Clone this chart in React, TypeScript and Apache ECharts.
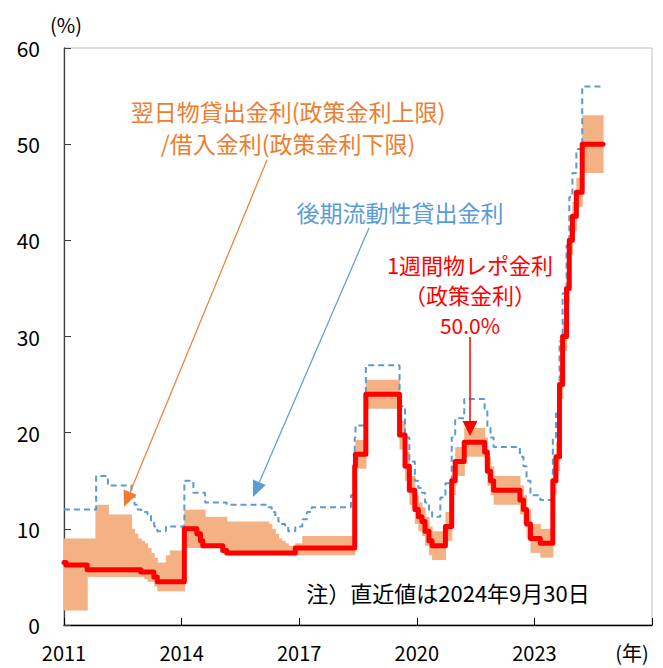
import React, { useEffect, useRef } from 'react';
import * as echarts from 'echarts';

// 1週間物レポ金利 (policy rate) — step changes [year, %]
const repoDates = [2011.0, 2011.05, 2011.59, 2012.96, 2013.29, 2013.38, 2014.07, 2014.39, 2014.48, 2014.54, 2015.05, 2015.15, 2016.9, 2018.416, 2018.435, 2018.7, 2019.56, 2019.7, 2019.81, 2019.95, 2020.04, 2020.13, 2020.21, 2020.31, 2020.39, 2020.73, 2020.89, 2020.98, 2021.21, 2021.73, 2021.8, 2021.88, 2021.96, 2022.63, 2022.72, 2022.8, 2022.9, 2023.15, 2023.47, 2023.55, 2023.64, 2023.72, 2023.82, 2023.89, 2023.97, 2024.07, 2024.22, 2024.75];
const repoRates = [6.5, 6.25, 5.75, 5.5, 5.0, 4.5, 10.0, 9.5, 8.75, 8.25, 7.75, 7.5, 8.0, 16.5, 17.75, 24.0, 19.75, 16.5, 14.0, 12.0, 11.25, 10.75, 9.75, 8.75, 8.25, 10.25, 15.0, 17.0, 19.0, 18.0, 16.0, 15.0, 14.0, 13.0, 12.0, 10.5, 9.0, 8.5, 15.0, 17.5, 25.0, 30.0, 35.0, 40.0, 42.5, 45.0, 50.0, 50.0];

// 翌日物貸出金利 (upper) / 借入金利 (lower)
const bandDates = [2011.0, 2011.59, 2011.8, 2012.13, 2012.72, 2012.8, 2012.88, 2012.97, 2013.05, 2013.13, 2013.22, 2013.3, 2013.38, 2013.6, 2013.7, 2014.07, 2014.6, 2015.05, 2015.15, 2016.22, 2016.3, 2016.39, 2016.47, 2016.55, 2016.64, 2016.72, 2016.9, 2017.08, 2018.416, 2018.435, 2018.7, 2019.56, 2019.7, 2019.81, 2019.95, 2020.04, 2020.13, 2020.21, 2020.31, 2020.39, 2020.73, 2020.89, 2020.98, 2021.21, 2021.73, 2021.8, 2021.88, 2021.96, 2022.63, 2022.72, 2022.8, 2022.9, 2023.15, 2023.47, 2023.55, 2023.64, 2023.72, 2023.82, 2023.89, 2023.97, 2024.07, 2024.22, 2024.75];
const bandUpper = [9.0, 9.0, 12.5, 11.5, 10.0, 9.5, 9.0, 8.75, 8.5, 8.0, 7.5, 7.0, 6.5, 7.25, 7.75, 12.0, 11.25, 11.25, 10.75, 10.5, 10.0, 9.5, 9.0, 8.75, 8.5, 8.25, 8.5, 9.25, 18.0, 19.25, 25.5, 21.25, 18.0, 15.5, 13.5, 12.75, 12.25, 11.25, 10.25, 9.75, 11.75, 16.5, 18.5, 20.5, 19.5, 17.5, 16.5, 15.5, 14.5, 13.5, 12.0, 10.5, 10.0, 16.5, 19.0, 26.5, 31.5, 36.5, 41.5, 44.0, 46.5, 53.0, 53.0];
const bandLower = [1.5, 5.0, 5.0, 5.0, 5.0, 5.0, 5.0, 5.0, 4.75, 4.5, 4.5, 4.0, 3.5, 3.5, 3.5, 8.0, 8.0, 7.5, 7.25, 7.25, 7.25, 7.25, 7.25, 7.25, 7.25, 7.25, 7.25, 7.25, 15.0, 16.25, 22.5, 18.25, 15.0, 12.5, 10.5, 9.75, 9.25, 8.25, 7.25, 6.75, 8.75, 13.5, 15.5, 17.5, 16.5, 14.5, 13.5, 12.5, 11.5, 10.5, 9.0, 7.5, 7.0, 13.5, 16.0, 23.5, 28.5, 33.5, 38.5, 41.0, 43.5, 47.0, 47.0];

// 後期流動性貸出金利
const llwDates = [2011.0, 2011.82, 2012.12, 2012.72, 2012.8, 2012.88, 2012.97, 2013.13, 2013.22, 2013.3, 2013.38, 2013.6, 2014.07, 2014.3, 2014.6, 2015.15, 2016.22, 2016.3, 2016.39, 2016.47, 2016.55, 2016.64, 2016.72, 2016.9, 2017.08, 2017.2, 2017.32, 2018.32, 2018.39, 2018.416, 2018.435, 2018.7, 2019.56, 2019.7, 2019.81, 2019.95, 2020.04, 2020.13, 2020.21, 2020.31, 2020.39, 2020.6, 2020.73, 2020.89, 2020.98, 2021.21, 2021.73, 2021.8, 2021.88, 2021.96, 2022.63, 2022.72, 2022.8, 2022.9, 2023.15, 2023.47, 2023.55, 2023.64, 2023.72, 2023.82, 2023.89, 2023.97, 2024.07, 2024.22, 2024.75];
const llwRates = [12.0, 15.5, 14.5, 13.5, 12.5, 12.0, 11.75, 11.5, 10.75, 10.25, 9.75, 10.25, 15.0, 13.75, 12.75, 12.5, 12.25, 11.75, 11.25, 10.75, 10.5, 10.25, 9.75, 10.25, 11.0, 11.75, 12.25, 13.5, 16.5, 19.5, 20.75, 27.0, 22.75, 19.5, 17.0, 15.0, 14.25, 13.75, 12.75, 11.75, 11.25, 13.25, 14.75, 19.5, 21.5, 23.5, 22.5, 20.5, 19.5, 18.5, 17.5, 16.5, 15.0, 13.5, 13.0, 19.5, 22.0, 29.5, 34.5, 39.5, 44.5, 47.0, 49.5, 56.0, 56.0];

const xTicks = [2011, 2014, 2017, 2020, 2023];

const FONT = "'Noto Sans CJK JP', 'Noto Sans', sans-serif";
const ORANGE = '#ED7D31';
const BAND = '#F4B183';
const BLUE = '#5B9BD5';
const RED = '#FF0000';

function arrow(x1: number, y1: number, x2: number, y2: number, color: string, len: number, hw: number, lw: number) {
  const dx = x2 - x1, dy = y2 - y1;
  const L = Math.hypot(dx, dy);
  const ux = dx / L, uy = dy / L;
  const bx = x2 - ux * len, by = y2 - uy * len;
  const px = -uy, py = ux;
  return [
    { type: 'line', z: 100, shape: { x1, y1, x2: bx, y2: by }, style: { stroke: color, lineWidth: lw } },
    { type: 'polygon', z: 100, shape: { points: [[x2, y2], [bx + px * hw, by + py * hw], [bx - px * hw, by - py * hw]] }, style: { fill: color } },
  ];
}

function txt(x: number, y: number, text: string, color: string, size: number) {
  return {
    type: 'text', z: 100, x, y,
    style: { text, fill: color, fontSize: size, fontFamily: FONT, align: 'center', verticalAlign: 'middle' },
  };
}

export default function App() {
  const ref = useRef<HTMLDivElement>(null);
  useEffect(() => {
    const chart = echarts.init(ref.current!, null, { renderer: 'svg' });
    // corridor intervals: [start, end, lower, upper]
    const bandData: number[][] = [];
    for (let i = 0; i < bandDates.length - 1; i++) {
      bandData.push([bandDates[i], bandDates[i + 1], bandLower[i], bandUpper[i]]);
    }
    const repoData = repoDates.map((d, i) => [d, repoRates[i]]);
    const llwData = llwDates.map((d, i) => [d, llwRates[i]]);

    const option: any = {
      animation: false,
      backgroundColor: '#ffffff',
      grid: { left: 64, right: 11, top: 48, bottom: 43, show: true, borderColor: '#BFBFBF', borderWidth: 1, containLabel: false },
      xAxis: {
        type: 'value', min: 2011, max: 2026, interval: 3,
        axisLine: { show: true, lineStyle: { color: '#000', width: 1.3 } },
        axisTick: { show: true, inside: true, length: 7, lineStyle: { color: '#000' } },
        splitLine: { show: false },
        axisLabel: {
          margin: 17, fontSize: 20, color: '#000', fontFamily: FONT,
          formatter: (v: number) => (xTicks.includes(v) ? String(v) : ''),
        },
      },
      yAxis: {
        type: 'value', min: 0, max: 60, interval: 10,
        axisLine: { show: true, lineStyle: { color: '#404040', width: 1.3 } },
        axisTick: { show: true, inside: true, length: 7, lineStyle: { color: '#404040' } },
        splitLine: { show: false },
        axisLabel: { margin: 24, fontSize: 21, color: '#000', fontFamily: FONT },
      },
      series: [
        {
          type: 'custom', name: '翌日物貸出金利/借入金利', data: bandData, silent: true, z: 1,
          encode: { x: [0, 1], y: [2, 3] },
          renderItem: (params: any, api: any) => {
            const pTop = api.coord([api.value(0), api.value(3)]);
            const pBot = api.coord([api.value(1), api.value(2)]);
            return {
              type: 'rect',
              shape: { x: pTop[0], y: pTop[1], width: pBot[0] - pTop[0] + 0.6, height: pBot[1] - pTop[1] },
              style: { fill: BAND },
            };
          },
        },
        {
          type: 'line', name: '後期流動性貸出金利', data: llwData, step: 'end', symbol: 'none',
          lineStyle: { color: BLUE, width: 2, type: [6, 4] }, z: 2,
        },
        {
          type: 'line', name: '1週間物レポ金利', data: repoData, step: 'end', symbol: 'none',
          lineStyle: { color: RED, width: 5, cap: 'round', join: 'round' }, z: 3,
        },
      ],
      graphic: [
        txt(66, 24, '(%)', '#000', 20),
        txt(632, 652, '(年)', '#000', 20),
        txt(288, 111, '翌日物貸出金利(政策金利上限)', ORANGE, 23),
        txt(288, 143, '/借入金利(政策金利下限)', ORANGE, 23),
        txt(400, 212, '後期流動性貸出金利', BLUE, 23),
        txt(470, 264, '1週間物レポ金利', RED, 22),
        txt(470, 294, '（政策金利）', RED, 22),
        txt(470, 325, '50.0%', RED, 21),
        txt(448, 592, '注）直近値は2024年9月30日', '#000', 22),
        ...arrow(267, 160, 124, 507, ORANGE, 16, 7, 1.2),
        ...arrow(369, 228, 253, 497, BLUE, 16, 7, 1.2),
        ...arrow(470, 337, 470, 436, RED, 15, 7.5, 1.5),
      ],
    };
    chart.setOption(option);
    return () => chart.dispose();
  }, []);
  return <div ref={ref} style={{ position: 'absolute', left: 0, top: 0, width: 663, height: 668 }} />;
}
